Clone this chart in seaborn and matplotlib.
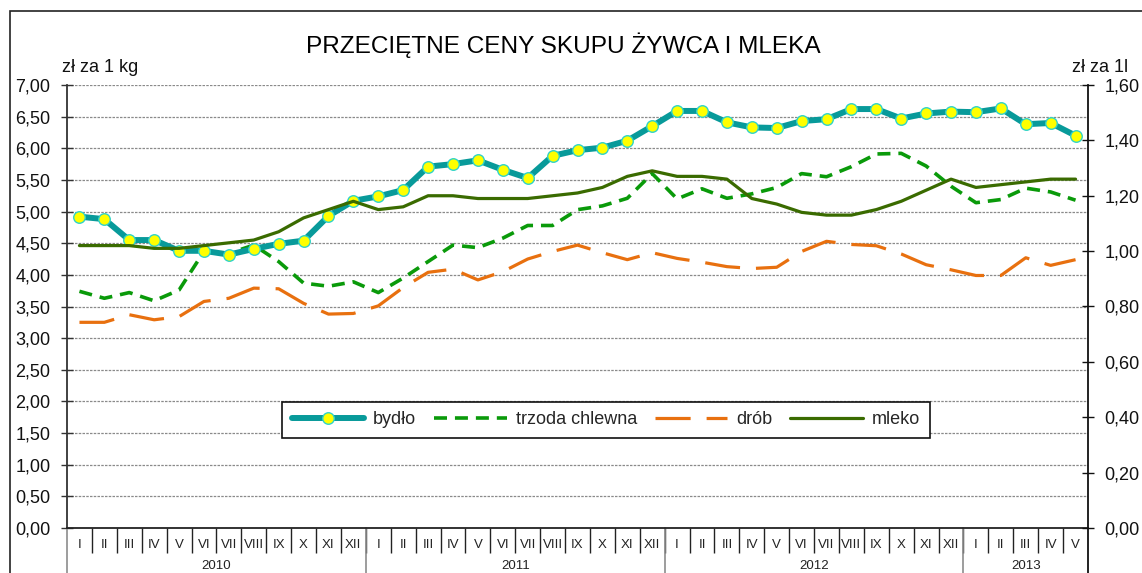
import numpy as np
import pandas as pd
import matplotlib
matplotlib.use("Agg")
import matplotlib.pyplot as plt
import seaborn as sns
import matplotlib.transforms as mtrans
from matplotlib.ticker import FuncFormatter
from matplotlib.lines import Line2D
from matplotlib.patches import Rectangle

# ---- data ----
month_labels = (["I", "II", "III", "IV", "V", "VI", "VII", "VIII", "IX", "X", "XI", "XII"] * 3
                + ["I", "II", "III", "IV", "V"])
years = ["2010", "2011", "2012", "2013"]
year_lengths = [12, 12, 12, 5]

bydlo = [4.92, 4.88, 4.55, 4.55, 4.38, 4.38, 4.32, 4.41, 4.49, 4.54, 4.93, 5.17,
         5.24, 5.34, 5.71, 5.75, 5.81, 5.66, 5.53, 5.88, 5.97, 6.01, 6.12, 6.35,
         6.59, 6.59, 6.41, 6.33, 6.32, 6.43, 6.46, 6.62, 6.62, 6.47, 6.55, 6.58,
         6.57, 6.63, 6.38, 6.40, 6.20]
trzoda = [3.74, 3.63, 3.72, 3.59, 3.76, 4.37, 4.34, 4.47, 4.21, 3.87, 3.82, 3.89,
          3.72, 3.95, 4.21, 4.47, 4.43, 4.58, 4.78, 4.78, 5.03, 5.09, 5.21, 5.60,
          5.20, 5.36, 5.21, 5.28, 5.38, 5.60, 5.55, 5.71, 5.91, 5.92, 5.72, 5.40,
          5.14, 5.19, 5.37, 5.31, 5.18]
drob = [3.25, 3.25, 3.37, 3.29, 3.34, 3.58, 3.63, 3.79, 3.78, 3.55, 3.38, 3.39,
        3.51, 3.80, 4.04, 4.09, 3.92, 4.05, 4.25, 4.37, 4.47, 4.35, 4.24, 4.35,
        4.26, 4.20, 4.13, 4.10, 4.12, 4.37, 4.53, 4.48, 4.46, 4.33, 4.16, 4.08,
        3.99, 3.99, 4.27, 4.15, 4.24]
mleko = [1.02, 1.02, 1.02, 1.01, 1.01, 1.02, 1.03, 1.04, 1.07, 1.12, 1.15, 1.18,
         1.15, 1.16, 1.20, 1.20, 1.19, 1.19, 1.19, 1.20, 1.21, 1.23, 1.27, 1.29,
         1.27, 1.27, 1.26, 1.19, 1.17, 1.14, 1.13, 1.13, 1.15, 1.18, 1.22, 1.26,
         1.23, 1.24, 1.25, 1.26, 1.26]

title = "PRZECIĘTNE CENY SKUPU ŻYWCA I MLEKA"
left_unit = "zł za 1 kg"
right_unit = "zł za 1l"
names = ["bydło", "trzoda chlewna", "drób", "mleko"]

c_bydlo = "#089A9A"
c_trzoda = "#0A9A0A"
c_drob = "#E8700F"
c_mleko = "#3A6B00"

# ---- style ----
sns.set_style("white")
plt.rcParams["font.family"] = ["Liberation Sans", "DejaVu Sans"]

W, H = 1142, 573
fig = plt.figure(figsize=(W / 100, H / 100), dpi=100)
ax_l, ax_r, ax_t, ax_b = 67, 1088, 85, 528
ax = fig.add_axes([ax_l / W, 1 - ax_b / H, (ax_r - ax_l) / W, (ax_b - ax_t) / H])
ax2 = ax.twinx()

x = np.arange(len(month_labels))
df = pd.DataFrame({"x": x, "bydlo": bydlo, "trzoda": trzoda, "drob": drob, "mleko": mleko})

# left axis series
sns.lineplot(data=df, x="x", y="drob", ax=ax, color=c_drob, linewidth=2.3)
l_drob = ax.get_lines()[-1]
l_drob.set_dashes((11, 5))
sns.lineplot(data=df, x="x", y="trzoda", ax=ax, color=c_trzoda, linewidth=2.6)
l_trz = ax.get_lines()[-1]
l_trz.set_dashes((3.6, 2.2))
sns.lineplot(data=df, x="x", y="bydlo", ax=ax, color=c_bydlo, linewidth=4.3,
             marker="o", markersize=8.3, markerfacecolor="#FFFF00",
             markeredgecolor="#2FD3C8", markeredgewidth=1.0)
# right axis series
sns.lineplot(data=df, x="x", y="mleko", ax=ax2, color=c_mleko, linewidth=2.3)

# ---- axes limits, ticks ----
ax.set_xlim(-0.5, len(x) - 0.5)
ax.set_ylim(0, 7)
ax2.set_ylim(0, 1.6)
ax.set_xlabel("")
ax.set_ylabel("")
ax2.set_ylabel("")

fmt = FuncFormatter(lambda v, p: f"{v:.2f}".replace(".", ","))
ax.set_yticks(np.arange(0, 7.01, 0.5))
ax.yaxis.set_major_formatter(fmt)
ax2.set_yticks(np.arange(0, 1.61, 0.2))
ax2.yaxis.set_major_formatter(fmt)
ax.tick_params(axis="y", direction="inout", length=8, width=1, color="#333333",
               labelsize=13, pad=8, left=True, labelcolor="#111111")
ax2.tick_params(axis="y", direction="inout", length=8, width=1, color="#111111",
                labelsize=13, pad=8, right=True, labelcolor="#111111")

ax.set_xticks(x)
ax.set_xticklabels(month_labels, fontsize=9.5)
ax.set_xticks(np.arange(0.5, len(x) - 1, 1), minor=True)
ax.tick_params(axis="x", which="major", length=0, pad=8, labelcolor="#222222")
ax.tick_params(axis="x", which="minor", length=18, width=1.0, color="#222222", direction="out", bottom=True)

# grid
ax.yaxis.grid(True, color="#8a8a8a", linestyle=(0, (2, 1)), linewidth=0.9)
ax.xaxis.grid(False)
ax2.grid(False)
ax.set_axisbelow(True)

for a in (ax, ax2):
    a.spines["top"].set_visible(False)
    a.spines["left"].set_color("#333333")
    a.spines["right"].set_color("#111111")
    a.spines["bottom"].set_color("#222222")
    for s in ("left", "right", "bottom"):
        a.spines[s].set_linewidth(1.3)
ax.spines["right"].set_visible(False)
ax2.spines["left"].set_visible(False)
ax2.spines["bottom"].set_visible(False)

# year labels and separators
trans = mtrans.blended_transform_factory(ax.transData, ax.transAxes)
ax_h = ax_b - ax_t
start = 0
for yr, n in zip(years, year_lengths):
    left = start - 0.5
    ax.plot([left, left], [0, -50 / ax_h], transform=trans, color="#8c8c8c",
            linewidth=1.2, clip_on=False)
    ax.text(start + (n - 1) / 2, -38 / ax_h, yr, transform=trans, ha="center",
            va="center", fontsize=9.5, color="#222222")
    start += n
ax.plot([len(x) - 0.5, len(x) - 0.5], [0, -50 / ax_h], transform=trans,
        color="#111111", linewidth=1.3, clip_on=False)

# titles and unit labels
fig.text(563 / W, 1 - 45 / H, title, ha="center", va="center", fontsize=17.6, color="#000000")
fig.text(62 / W, 1 - 67 / H, left_unit, ha="left", va="center", fontsize=13, color="#111111")
fig.text(1128 / W, 1 - 67 / H, right_unit, ha="right", va="center", fontsize=13, color="#111111")

# outer border
fig.patches.append(Rectangle((10 / W, -0.1), 1.2, 1 - 11 / H + 0.1, transform=fig.transFigure,
                             fill=False, edgecolor="#222222", linewidth=1.2))

# legend
handles = [
    Line2D([], [], color=c_bydlo, linewidth=4.3, marker="o", markersize=8.3,
           markerfacecolor="#FFFF00", markeredgecolor="#2FD3C8", markeredgewidth=1.0),
    Line2D([], [], color=c_trzoda, linewidth=2.6, dashes=(3.6, 2.2)),
    Line2D([], [], color=c_drob, linewidth=2.3, dashes=(11, 5)),
    Line2D([], [], color=c_mleko, linewidth=2.3),
]
leg = ax2.legend(handles, names, loc="center",
                 bbox_to_anchor=((606 - ax_l) / (ax_r - ax_l), (ax_b - 420) / ax_h),
                 ncol=4, fontsize=13, frameon=True, fancybox=False,
                 handlelength=4.0, handletextpad=0.5, columnspacing=1.0,
                 borderpad=0.55, markerscale=1.0)
leg.get_frame().set_edgecolor("#111111")
leg.get_frame().set_linewidth(1.2)
leg.get_frame().set_facecolor("white")
leg.get_frame().set_alpha(1)

fig.savefig("out.png", dpi=100, facecolor="white")
